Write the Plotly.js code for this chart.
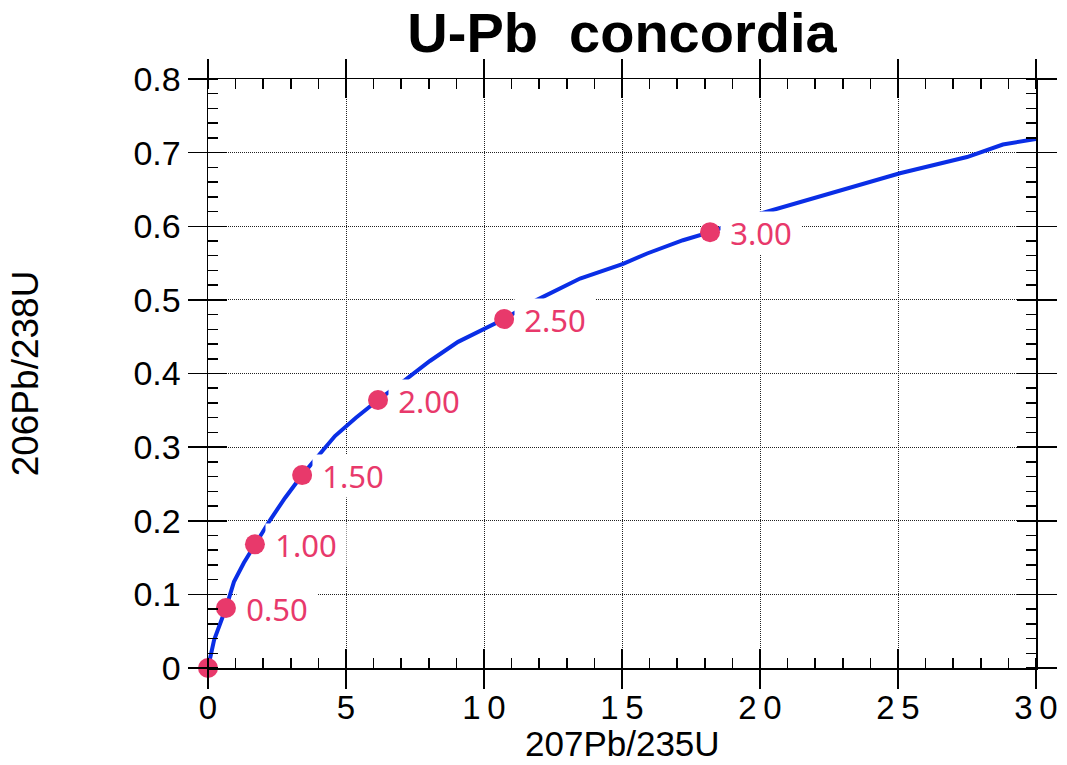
<!DOCTYPE html>
<html>
<head>
<meta charset="utf-8">
<script src="https://cdn.plot.ly/plotly-3.0.1.min.js"></script>
<style>html,body{margin:0;padding:0;background:#fff;}#chart{width:1067px;height:765px;}</style>
</head>
<body>
<div id="chart"></div>
<script>
// Concordia curve
var curveX = [0, 0.22, 0.65, 0.94, 1.30, 1.70, 2.25, 2.79, 3.41, 3.99, 4.60, 5.36, 6.16, 6.96, 8.04, 9.06, 10.73, 11.92, 13.48, 15.04, 15.91, 17.21, 18.19, 20.0, 22.54, 25.07, 27.50, 28.80, 30.0];
var curveY = [0, 0.038, 0.0815, 0.117, 0.143, 0.168, 0.201, 0.231, 0.262, 0.288, 0.315, 0.340, 0.364, 0.386, 0.417, 0.443, 0.474, 0.500, 0.529, 0.549, 0.563, 0.581, 0.592, 0.617, 0.645, 0.672, 0.694, 0.711, 0.7185];
// Age markers (Ga)
var markerX = [0, 0.65, 1.70, 3.41, 6.16, 10.73, 18.19];
var markerY = [0, 0.0815, 0.168, 0.262, 0.364, 0.474, 0.592];
var markerLabels = ["", "0.50", "1.00", "1.50", "2.00", "2.50", "3.00"];
// Tick values / labels
var xTickVals = [0, 5, 10, 15, 20, 25, 30];
var xTickText = ["0", "5", "1\u20090", "1\u20095", "2\u20090", "2\u20095", "3\u20090"];
var xTitle = '207Pb/235U';
var yTitle = '206Pb/238U';

var pink = '#e8396b';
var traces = [
  {x: curveX, y: curveY, mode: 'lines', line: {color: '#0a2ee6', width: 4}, hoverinfo: 'skip', showlegend: false},
  {x: markerX, y: markerY, mode: 'markers', marker: {color: pink, size: 20}, showlegend: false, cliponaxis: false},
  {x: [], y: [], xaxis: 'x2', yaxis: 'y2', showlegend: false}
];

var annotations = [];
for (var i = 0; i < markerLabels.length; i++) {
  if (!markerLabels[i]) continue;
  annotations.push({
    x: markerX[i], y: markerY[i], xref: 'x', yref: 'y',
    text: markerLabels[i], showarrow: false,
    xanchor: 'left', yanchor: 'middle', xshift: 10, yshift: -1,
    bgcolor: '#ffffff', borderpad: 0, width: 80, align: 'center',
    font: {family: 'Noto Sans', size: 31, color: pink}
  });
}
// x-axis title, placed just under the tick labels
annotations.push({
  x: 0.5, y: 0, xref: 'paper', yref: 'paper', yanchor: 'bottom', xanchor: 'center',
  yshift: -97, showarrow: false, text: xTitle,
  font: {family: 'Liberation Sans', size: 35, color: '#000'}
});

var gridCommon = {griddash: '1px,1px', gridcolor: '#222', gridwidth: 1};
var layout = {
  width: 1067, height: 765,
  margin: {l: 208, r: 31, t: 79, b: 97},
  paper_bgcolor: '#fff', plot_bgcolor: '#fff',
  title: {text: '<b>U-Pb\u00a0 concordia</b>', font: {family: 'Liberation Sans', size: 56, color: '#000'},
          x: 0.5, xanchor: 'center', y: 0.957, yanchor: 'middle', xref: 'paper'},
  xaxis: Object.assign({
    range: [0, 30], tickvals: xTickVals, ticktext: xTickText,
    ticks: 'outside', ticklen: 19, tickwidth: 1.5, tickcolor: '#000',
    showline: true, linewidth: 1.5, linecolor: '#000', mirror: 'ticks', zeroline: false,
    showgrid: true, ticklabelstandoff: -9,
    minor: {dtick: 1, ticks: 'inside', ticklen: 10, tickwidth: 1.5, tickcolor: '#000', showgrid: false},
    tickfont: {family: 'Liberation Sans', size: 33, color: '#000'},
    automargin: false
  }, gridCommon),
  yaxis: Object.assign({
    range: [0, 0.8], dtick: 0.1, tick0: 0,
    ticks: 'outside', ticklen: 19, tickwidth: 1.5, tickcolor: '#000',
    showline: true, linewidth: 1.5, linecolor: '#000', mirror: 'ticks', zeroline: false,
    showgrid: true,
    minor: {dtick: 0.02, ticks: 'inside', ticklen: 10, tickwidth: 1.5, tickcolor: '#000', showgrid: false},
    tickfont: {family: 'Liberation Sans', size: 34, color: '#000'},
    title: {text: yTitle, font: {family: 'Liberation Sans', size: 37, color: '#000'}, standoff: 83},
    automargin: false
  }, gridCommon),
  xaxis2: {overlaying: 'x', matches: 'x', anchor: 'y2', side: 'bottom', ticks: 'inside', ticklen: 19, tickwidth: 1.5,
           tickcolor: '#000', tickvals: xTickVals, mirror: 'ticks', showline: false, showgrid: false, zeroline: false, showticklabels: false},
  yaxis2: {overlaying: 'y', matches: 'y', anchor: 'x2', side: 'left', ticks: 'inside', ticklen: 19, tickwidth: 1.5,
           tickcolor: '#000', dtick: 0.1, tick0: 0, mirror: 'ticks', showline: false, showgrid: false, zeroline: false, showticklabels: false},
  annotations: annotations
};

Plotly.newPlot('chart', traces, layout, {displayModeBar: false, staticPlot: true});
</script>
</body>
</html>
